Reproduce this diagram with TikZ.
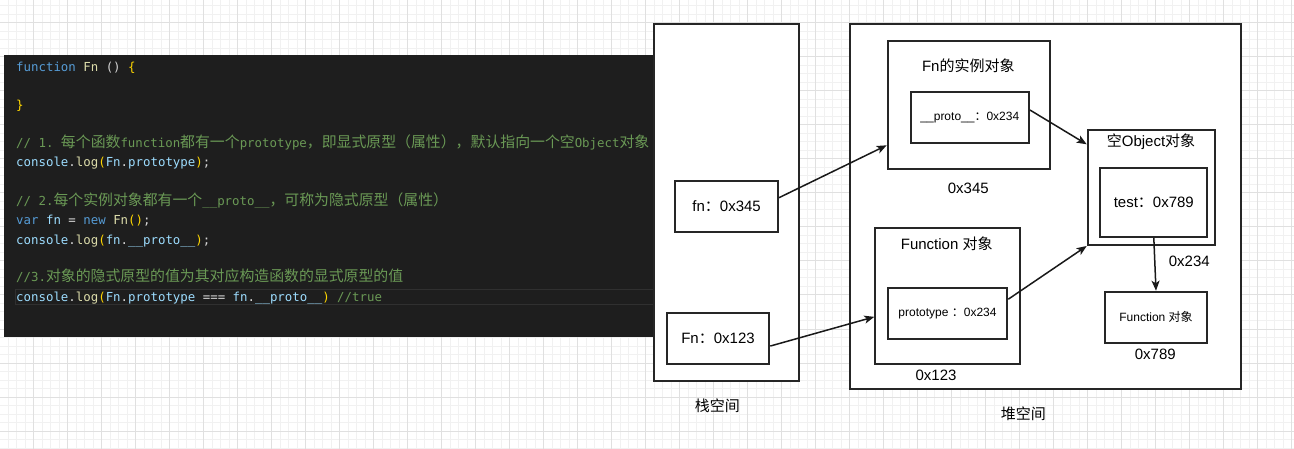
\documentclass[tikz,border=0pt]{standalone}
\usepackage{fontspec}
\setmainfont{Liberation Sans}
\setmonofont{DejaVu Sans Mono}
\newfontfamily\zh{Noto Sans CJK SC}
\newfontfamily\zhcode[Scale=1.2]{Noto Sans CJK SC}
\usetikzlibrary{positioning,arrows.meta}
\definecolor{codebg}{HTML}{1E1E1E}
\definecolor{codehl}{HTML}{303030}
\definecolor{codetxt}{HTML}{D4D4D4}
\definecolor{codekw}{HTML}{569CD6}
\definecolor{codefun}{HTML}{DCDCAA}
\definecolor{codevar}{HTML}{9CDCFE}
\definecolor{codecmt}{HTML}{6A9955}
\definecolor{codebrk}{HTML}{FFD700}
\definecolor{gridminor}{HTML}{F1F1F1}
\definecolor{gridmajor}{HTML}{E0E0E0}
\newcommand\cKw[1]{\textcolor{codekw}{#1}}
\newcommand\cFun[1]{\textcolor{codefun}{#1}}
\newcommand\cVar[1]{\textcolor{codevar}{#1}}
\newcommand\cCmt[1]{\textcolor{codecmt}{#1}}
\newcommand\cBrk[1]{\textcolor{codebrk}{#1}}
\tikzset{
  code line/.style={anchor=base west, inner sep=0pt, text=codetxt, font=\ttfamily\fontsize{12.4}{14}\selectfont},
  mem box/.style={draw=black!85, line width=2pt, fill=white, anchor=north west, inner sep=0pt, align=center},
  value box/.style={mem box, font=\fontsize{15}{18}\selectfont},
  small value box/.style={mem box, font=\fontsize{12}{14}\selectfont},
  mem label/.style={inner sep=0pt, font=\fontsize{15}{18}\selectfont},
  mem arrow/.style={line width=1.5pt, draw=black!90, -{Stealth[length=10pt,width=8pt,inset=2.5pt]}},
}

\begin{document}
\begin{tikzpicture}[x=1pt,y=-1pt]
\useasboundingbox (0,0) rectangle (1294,449);
\clip (0,0) rectangle (1294,449);
% the grid
\begin{scope}[shift={(-0.5,-11)}]
\draw[gridminor, line width=1pt, step=8.5pt] (0,0) grid (1296,462);
\draw[gridmajor, line width=1pt, step=34pt] (0,0) grid (1296,462);
\end{scope}
% the code
\node[fill=codebg, anchor=north west, minimum width=651pt, minimum height=282pt, inner sep=0pt] (codepanel) at (4,55) {};
\node[draw=codehl, line width=1pt, anchor=north west, minimum width=640pt, minimum height=15pt, inner sep=0pt] (codehl) at (15,289) {};
\node[code line] (codeA) at (16,71.5) {\cKw{function} \cFun{Fn} () \cBrk{\{}};
\node[code line] (codeB) at (16,110) {\cBrk{\}}};
\node[code line] (codeC) at (16,147.5) {\cCmt{// 1. {\zhcode 每个函数}function{\zhcode 都有一个}prototype{\zhcode ，即显式原型（属性），默认指向一个空}Object{\zhcode 对象}}};
\node[code line] (codeD) at (16,167) {\cVar{console}.\cFun{log}\cBrk{(}\cVar{Fn}.\cVar{prototype}\cBrk{)};};
\node[code line] (codeE) at (16,205.5) {\cCmt{// 2.{\zhcode 每个实例对象都有一个}\_\_proto\_\_{\zhcode ，可称为隐式原型（属性）}}};
\node[code line] (codeF) at (16,225) {\cKw{var} \cVar{fn} = \cKw{new} \cFun{Fn}\cBrk{()};};
\node[code line] (codeG) at (16,244.5) {\cVar{console}.\cFun{log}\cBrk{(}\cVar{fn}.\cVar{\_\_proto\_\_}\cBrk{)};};
\node[code line] (codeH) at (16,281.5) {\cCmt{//3.{\zhcode 对象的隐式原型的值为其对应构造函数的显式原型的值}}};
\node[code line] (codeI) at (16,301.5) {\cVar{console}.\cFun{log}\cBrk{(}\cVar{Fn}.\cVar{prototype} === \cVar{fn}.\cVar{\_\_proto\_\_}\cBrk{)} \cCmt{//true}};
% the nodes
\node[mem box, minimum width=145pt, minimum height=357pt] (stack) at (653,23) {};
\node[mem box, minimum width=391pt, minimum height=365pt] (heap) at (849,23) {};
\node[value box, minimum width=102.7pt, minimum height=51.6pt] (fnVar) at (674.3,179.7) {fn{\zh ：}0x345};
\node[value box, minimum width=102.6pt, minimum height=51.3pt] (FnVar) at (665.7,311.7) {Fn{\zh ：}0x123};
\node[mem box, minimum width=162.3pt, minimum height=128pt] (fnObj) at (886.7,39.7) {};
\node[small value box, minimum width=118.3pt, minimum height=51.3pt] (protoSlot) at (909.7,90.7) {\_\_proto\_\_{\zh ：}0x234};
\node[mem box, minimum width=145pt, minimum height=136.3pt] (funcObj) at (874.3,226.7) {};
\node[small value box, minimum width=119.6pt, minimum height=51pt] (protoProp) at (886.7,286.7) {prototype {\zh ：}0x234};
\node[mem box, minimum width=127.6pt, minimum height=114.7pt] (emptyObj) at (1086.7,129.3) {};
\node[value box, minimum width=107pt, minimum height=68.4pt] (testProp) at (1099.3,167.3) {test{\zh ：}0x789};
\node[small value box, minimum width=102.6pt, minimum height=51pt] (funcObjB) at (1103.7,290.7) {Function {\zh 对象}};
% the labels
\node[mem label] (labFnObj) at (968.3,65.7) {Fn{\zh 的实例对象}};
\node[mem label] (addrFnObj) at (968.3,188.3) {0x345};
\node[mem label] (labFuncObj) at (946.7,244) {Function {\zh 对象}};
\node[mem label] (addrFuncObj) at (936,375.7) {0x123};
\node[mem label] (labEmptyObj) at (1151,142) {{\zh 空}Object{\zh 对象}};
\node[mem label] (addrEmptyObj) at (1189.3,261) {0x234};
\node[mem label] (addrFuncObjB) at (1155.3,354.3) {0x789};
\node[mem label] (labStack) at (717.3,405.7) {\zh 栈空间};
\node[mem label] (labHeap) at (1023.3,413.3) {\zh 堆空间};
%drawings of vectors
\draw[mem arrow] ([yshift=8.8pt]fnVar.east) -- ([yshift=24.4pt]fnObj.south west);
\draw[mem arrow] ([yshift=-7.7pt]FnVar.east) -- ([yshift=-21pt]funcObj.west);
\draw[mem arrow] ([yshift=7.3pt]protoSlot.east) -- ([yshift=-15pt]emptyObj.north west);
\draw[mem arrow] ([yshift=14pt]protoProp.east) -- (emptyObj.south west);
\draw[mem arrow] (testProp.south) -- (funcObjB.north);
\end{tikzpicture}
\end{document}
